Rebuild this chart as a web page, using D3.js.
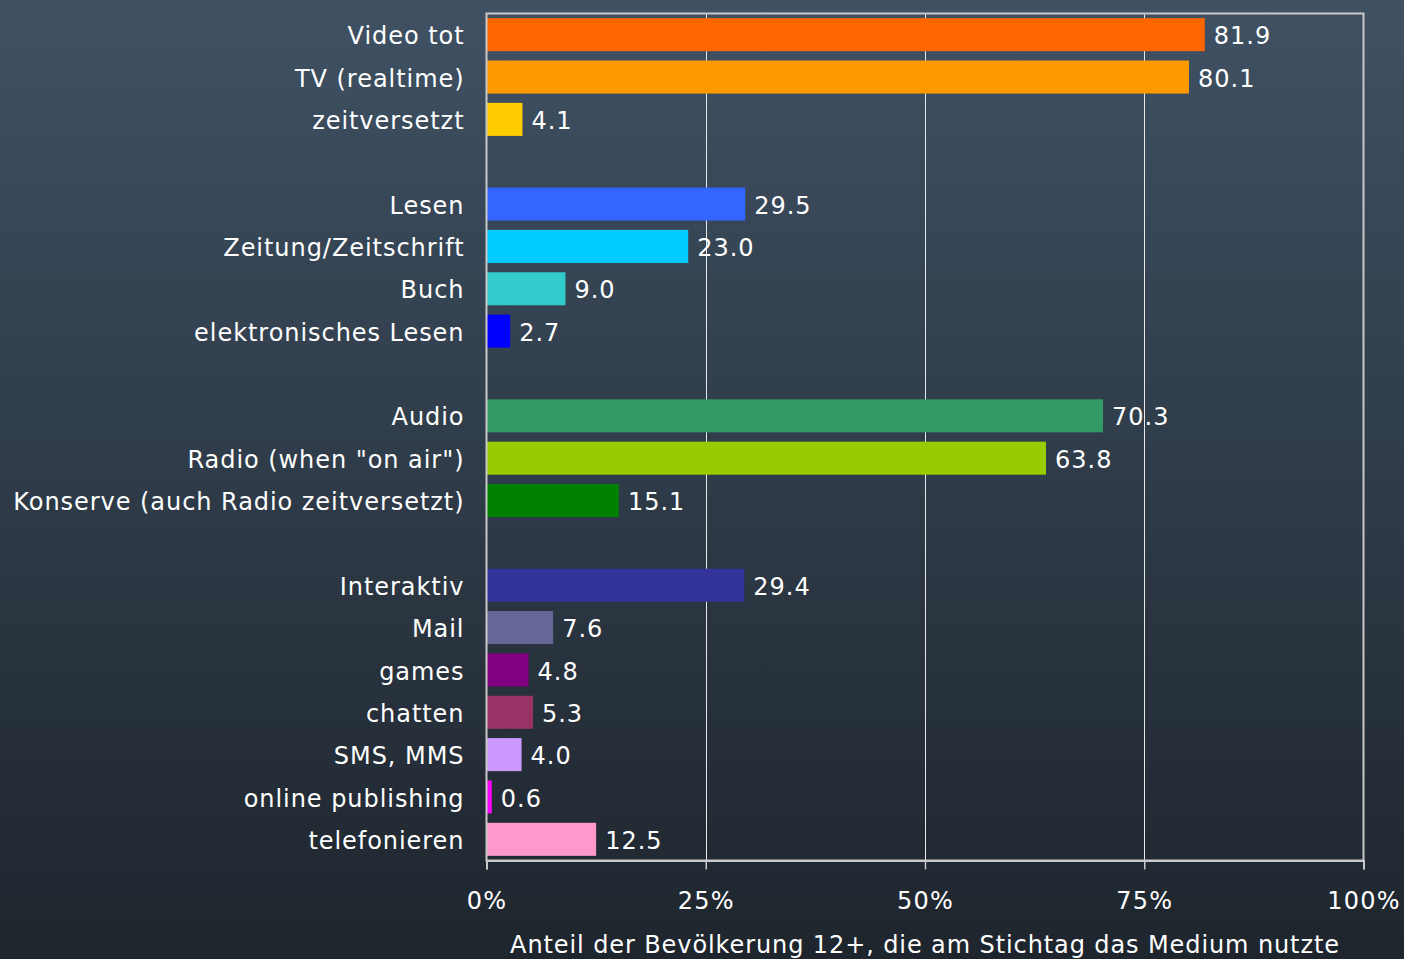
<!DOCTYPE html>
<html><head><meta charset="utf-8">
<script src="https://cdn.jsdelivr.net/npm/d3@7"></script>
<style>html,body{margin:0;padding:0;background:#1f262e;}svg{display:block;}</style>
</head><body>
<script>
const categories = ["Video tot","TV (realtime)","zeitversetzt","",
 "Lesen","Zeitung/Zeitschrift","Buch","elektronisches Lesen","",
 "Audio","Radio (when \"on air\")","Konserve (auch Radio zeitversetzt)","",
 "Interaktiv","Mail","games","chatten","SMS, MMS","online publishing","telefonieren"];
const values = [81.9,80.1,4.1,null,29.5,23.0,9.0,2.7,null,70.3,63.8,15.1,null,29.4,7.6,4.8,5.3,4.0,0.6,12.5];
const colors = ["#ff6600","#ff9900","#ffcc00",null,"#3366ff","#00ccff","#33cccc","#0000ff",null,
 "#339966","#99cc00","#008000",null,"#333399","#666699","#800080","#993366","#cc99ff","#ff00ff","#ff99cc"];
const xTicks = [0,25,50,75,100];
const xTitle = "Anteil der Bevölkerung 12+, die am Stichtag das Medium nutzte";

const W=1404,H=959;
const m={left:486.5,right:1363.5,top:13.5,bottom:860.5};
const svg=d3.select("body").append("svg").attr("width",W).attr("height",H);
const defs=svg.append("defs");
const g=defs.append("linearGradient").attr("id","bg").attr("x1",0).attr("y1",0).attr("x2",0).attr("y2",1);
g.append("stop").attr("offset","0%").attr("stop-color","#3f5163");
g.append("stop").attr("offset","100%").attr("stop-color","#1e252d");
svg.append("rect").attr("width",W).attr("height",H).attr("fill","url(#bg)");

const x=d3.scaleLinear().domain([0,100]).range([m.left,m.right]);
const ids=categories.map((c,i)=>i);
const y=d3.scaleBand().domain(ids).range([m.top,m.bottom]).paddingInner(0.22).paddingOuter(0.11);
const font="'DejaVu Sans', Verdana, sans-serif";

// gridlines
svg.append("g").selectAll("line").data(xTicks.slice(1,-1)).join("line")
 .attr("x1",d=>Math.round(x(d))+0.5).attr("x2",d=>Math.round(x(d))+0.5)
 .attr("y1",m.top).attr("y2",m.bottom).attr("stroke","#e8e8e8").attr("stroke-width",1);

// bars
const rows=ids.filter(i=>values[i]!==null);
svg.append("g").selectAll("rect").data(rows).join("rect")
 .attr("x",x(0)).attr("y",i=>y(i)).attr("width",i=>x(values[i])-x(0)).attr("height",y.bandwidth())
 .attr("fill",i=>colors[i]);

// frame
svg.append("rect").attr("x",m.left).attr("y",m.top).attr("width",m.right-m.left).attr("height",m.bottom-m.top)
 .attr("fill","none").attr("stroke","#c8c8c8").attr("stroke-width",2);

// x axis
const ax=svg.append("g").attr("transform",`translate(0,${m.bottom})`)
 .call(d3.axisBottom(x).tickValues(xTicks).tickFormat(d=>d+"%").tickSize(9).tickPadding(22));
ax.select(".domain").attr("stroke","#c8c8c8").attr("stroke-width",2);
ax.selectAll(".tick line").attr("stroke","#c8c8c8").attr("stroke-width",1.5);
ax.selectAll(".tick text").attr("fill","#ffffff").attr("font-family",font).attr("font-size",24).attr("letter-spacing",1.2);

// y labels
svg.append("g").selectAll("text").data(rows).join("text")
 .attr("x",m.left-22).attr("y",i=>y(i)+y.bandwidth()/2+1).attr("dy","0.36em")
 .attr("text-anchor","end").attr("fill","#ffffff").attr("font-family",font).attr("font-size",24).attr("letter-spacing",0.95)
 .text(i=>categories[i]);

// value labels
svg.append("g").selectAll("text").data(rows).join("text")
 .attr("x",i=>x(values[i])+9).attr("y",i=>y(i)+y.bandwidth()/2+1).attr("dy","0.36em")
 .attr("fill","#ffffff").attr("font-family",font).attr("font-size",24).attr("letter-spacing",1)
 .text(i=>values[i].toFixed(1));

// title
svg.append("text").attr("x",925).attr("y",953).attr("text-anchor","middle")
 .attr("fill","#ffffff").attr("font-family",font).attr("font-size",24).attr("letter-spacing",0.9).text(xTitle);
</script>
</body></html>
